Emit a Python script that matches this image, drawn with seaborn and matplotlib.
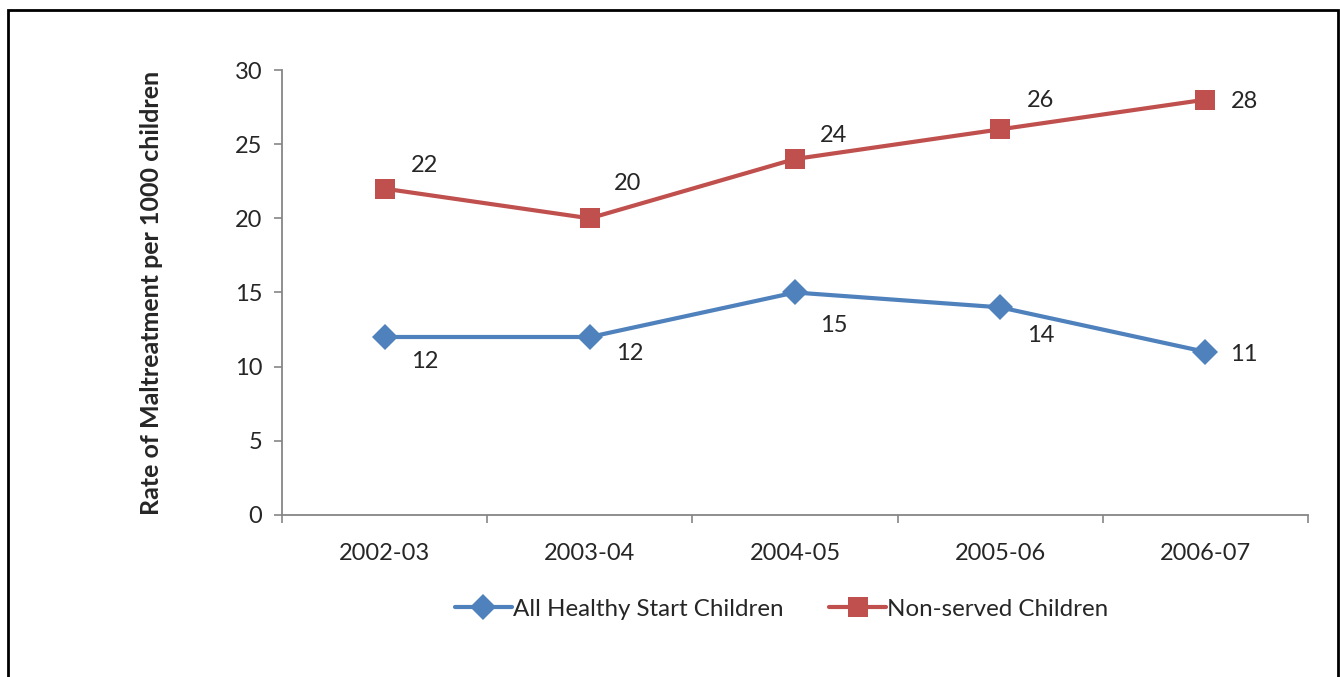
import pandas as pd
import matplotlib.pyplot as plt
import seaborn as sns
from matplotlib.patches import Rectangle

years = ['2002-03', '2003-04', '2004-05', '2005-06', '2006-07']
healthy_start = [12, 12, 15, 14, 11]
non_served = [22, 20, 24, 26, 28]
series_names = ['All Healthy Start Children', 'Non-served Children']

# label offsets (points) to mimic the hand-placed Excel data labels
hs_offsets = [(29, -18), (29, -12), (28, -24), (29, -20), (28, -2)]
ns_offsets = [(29, 17), (27, 25), (28, 17), (29, 21), (28, -1)]

df = pd.DataFrame({
    'Year': years * 2,
    'Rate': healthy_start + non_served,
    'Series': [series_names[0]] * 5 + [series_names[1]] * 5,
})

sns.set_style('white')
plt.rcParams['font.family'] = ['Lato', 'DejaVu Sans']

fig = plt.figure(figsize=(13.4, 6.77), dpi=100)
ax = fig.add_axes([0.2104, 0.2393, 0.7657, 0.6573])

palette = {series_names[0]: '#4F81BD', series_names[1]: '#C0504D'}
sns.lineplot(data=df, x='Year', y='Rate', hue='Series', style='Series',
             markers={series_names[0]: 'D', series_names[1]: 's'},
             dashes=False, palette=palette, linewidth=3, markersize=13,
             markeredgewidth=0, ax=ax, sort=False)

for i, v in enumerate(healthy_start):
    ax.annotate(str(v), (i, v), xytext=hs_offsets[i], textcoords='offset points',
                ha='center', va='center', fontsize=17)
for i, v in enumerate(non_served):
    ax.annotate(str(v), (i, v), xytext=ns_offsets[i], textcoords='offset points',
                ha='center', va='center', fontsize=17)

ax.set_xlim(-0.5, len(years) - 0.5)
ax.set_ylim(0, 30)
ax.set_yticks(range(0, 31, 5))
ax.set_xticks([i - 0.5 for i in range(len(years) + 1)])
ax.set_xticklabels([])
ax.set_xticks(range(len(years)), minor=True)
ax.set_xticklabels(years, minor=True)
ax.tick_params(axis='x', which='minor', length=0, pad=20, labelsize=17)
ax.tick_params(axis='x', which='major', length=6, width=1.2, color='#868686', direction='out')
ax.tick_params(axis='y', length=6, width=1.2, color='#868686', direction='out', pad=8, labelsize=17)
ax.tick_params(bottom=True, left=True)

for side in ['top', 'right']:
    ax.spines[side].set_visible(False)
for side in ['left', 'bottom']:
    ax.spines[side].set_color('#868686')
    ax.spines[side].set_linewidth(1.3)

ax.set_xlabel('')
ax.set_ylabel('Rate of Maltreatment per 1000 children', fontsize=18, fontweight='bold', labelpad=52)

leg = ax.legend(loc='center', bbox_to_anchor=(0.487, -0.212), ncol=2, frameon=False,
                fontsize=17.4, handlelength=2.35, handletextpad=0.05, columnspacing=1.9)

# squares a touch bigger than diamonds, as in the original
for line in list(ax.lines) + list(leg.get_lines()):
    if line.get_marker() == 's':
        line.set_markersize(14.5)

fig.patches.append(Rectangle((0.006, -0.1), 0.9925, 1.085, transform=fig.transFigure,
                             fill=False, edgecolor='black', linewidth=2))

fig.savefig('out.png', dpi=100)
